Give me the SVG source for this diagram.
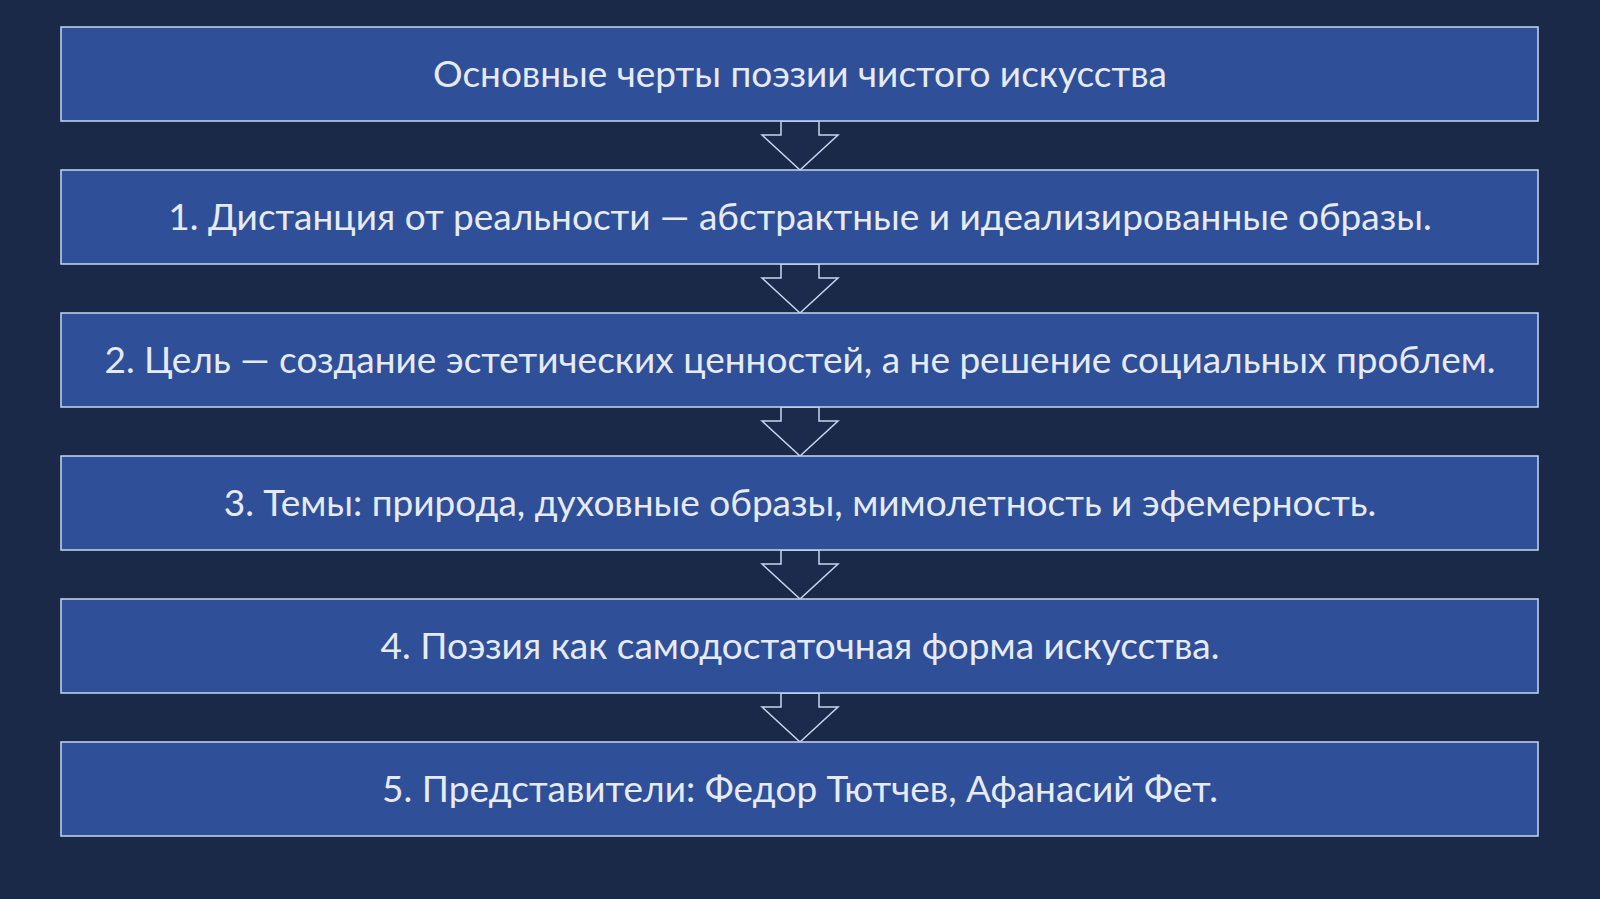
<svg xmlns="http://www.w3.org/2000/svg" width="1600" height="899" viewBox="0 0 1600 899">
<style>
.box{fill:#2f4f98;stroke:#c9d6f0;stroke-width:1.5}
.t{font-family:Lato,"Liberation Sans",sans-serif;font-size:37px;fill:#e6eaf2;text-anchor:middle}
.arr{fill:#1c2b4c;stroke:#c9d6f0;stroke-width:1.5}
</style>
<rect width="1600" height="899" fill="#1b2948"/>
<g id="connectors">
<path class="arr" d="M781 121 H819 V135 H838 L800 170 L762 135 H781 Z"/>
<path class="arr" d="M781 264 H819 V278 H838 L800 313 L762 278 H781 Z"/>
<path class="arr" d="M781 407 H819 V421 H838 L800 456 L762 421 H781 Z"/>
<path class="arr" d="M781 550 H819 V564 H838 L800 599 L762 564 H781 Z"/>
<path class="arr" d="M781 693 H819 V707 H838 L800 742 L762 707 H781 Z"/>
</g>
<g id="n0"><rect class="box" x="61" y="27" width="1477" height="94"/><text class="t" x="800" y="87">Основные черты поэзии чистого искусства</text></g>
<g id="n1"><rect class="box" x="61" y="170" width="1477" height="94"/><text class="t" x="800" y="230">1. Дистанция от реальности — абстрактные и идеализированные образы.</text></g>
<g id="n2"><rect class="box" x="61" y="313" width="1477" height="94"/><text class="t" x="800" y="373">2. Цель — создание эстетических ценностей, а не решение социальных проблем.</text></g>
<g id="n3"><rect class="box" x="61" y="456" width="1477" height="94"/><text class="t" x="800" y="516">3. Темы: природа, духовные образы, мимолетность и эфемерность.</text></g>
<g id="n4"><rect class="box" x="61" y="599" width="1477" height="94"/><text class="t" x="800" y="659">4. Поэзия как самодостаточная форма искусства.</text></g>
<g id="n5"><rect class="box" x="61" y="742" width="1477" height="94"/><text class="t" x="800" y="802">5. Представители: Федор Тютчев, Афанасий Фет.</text></g>
</svg>
